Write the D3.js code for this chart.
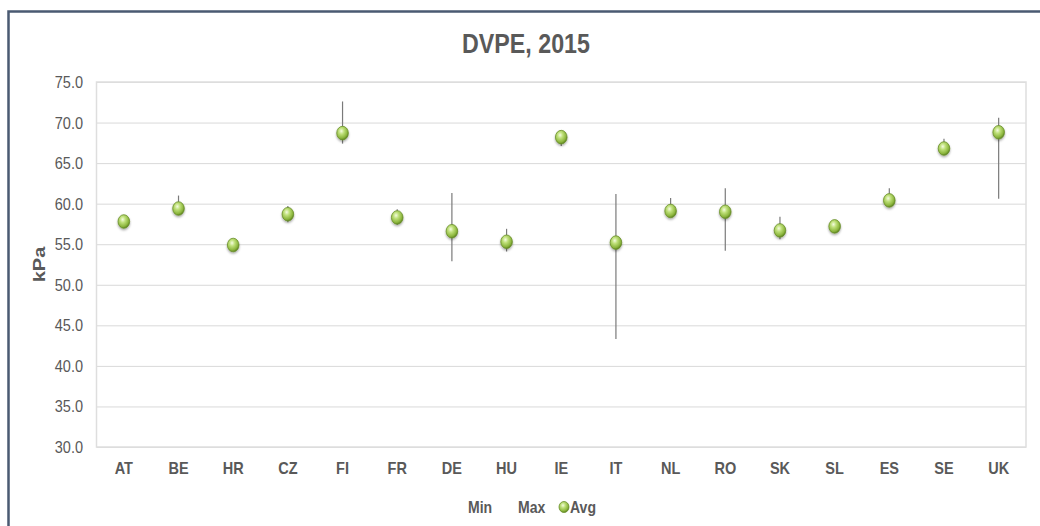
<!DOCTYPE html>
<html>
<head>
<meta charset="utf-8">
<script src="https://cdn.jsdelivr.net/npm/d3@7"></script>
<style>
  body { margin: 0; background: #fff; }
  svg text { font-family: "Liberation Sans", Arial, sans-serif; fill: #595959; }
</style>
</head>
<body>
<div id="chart"></div>
<script>
// data
const countries = ["AT", "BE", "HR", "CZ", "FI", "FR", "DE", "HU", "IE", "IT", "NL", "RO", "SK", "SL", "ES", "SE", "UK"];
const avgValues = [57.8, 59.4, 54.9, 58.7, 68.7, 58.3, 56.6, 55.3, 68.2, 55.2, 59.1, 59.0, 56.7, 57.2, 60.4, 66.8, 68.8];
const maxValues = [58.2, 61.0, 55.2, 59.7, 72.6, 59.3, 61.3, 56.9, 68.5, 61.2, 60.7, 61.9, 58.4, 57.5, 61.9, 68.0, 70.6];
const minValues = [57.4, 59.0, 54.6, 57.7, 67.4, 57.4, 52.9, 54.1, 67.1, 43.3, 58.6, 54.2, 55.6, 56.9, 59.6, 66.4, 60.6];
const yTicks = [30, 35, 40, 45, 50, 55, 60, 65, 70, 75];
const legendItems = ["Min", "Max", "Avg"];

const width = 1040, height = 526;
const margin = { top: 82, right: 14, bottom: 79, left: 96.5 };

const data = countries.map((c, i) => ({ country: c, avg: avgValues[i], min: minValues[i], max: maxValues[i] }));

const svg = d3.select("#chart").append("svg")
  .attr("width", width)
  .attr("height", height);

const defs = svg.append("defs");
const grad = defs.append("radialGradient")
  .attr("id", "ball")
  .attr("cx", "40%").attr("cy", "35%").attr("r", "65%");
grad.append("stop").attr("offset", "0%").attr("stop-color", "#f4fbe0");
grad.append("stop").attr("offset", "35%").attr("stop-color", "#bfe07a");
grad.append("stop").attr("offset", "80%").attr("stop-color", "#8bb53c");
grad.append("stop").attr("offset", "100%").attr("stop-color", "#5f8523");

const shadow = defs.append("filter").attr("id", "shadow")
  .attr("x", "-50%").attr("y", "-50%").attr("width", "200%").attr("height", "200%");
shadow.append("feDropShadow")
  .attr("dx", 0).attr("dy", 1.5).attr("stdDeviation", 1.2)
  .attr("flood-color", "#000").attr("flood-opacity", 0.35);

// chart frame
svg.append("rect")
  .attr("x", 8.5).attr("y", 11.5)
  .attr("width", 1100).attr("height", 600)
  .attr("fill", "none")
  .attr("stroke", "#4a5a72")
  .attr("stroke-width", 2.5);

// squeezed text helper (reference text is horizontally narrow)
function squeeze(sel, sx) {
  sel.each(function () {
    const t = d3.select(this);
    const x = +t.attr("x") || 0, y = +t.attr("y") || 0;
    t.attr("x", null).attr("y", null)
      .attr("transform", `translate(${x},${y}) scale(${sx},1)`);
  });
}

const xScale = d3.scaleBand()
  .domain(countries)
  .range([margin.left, width - margin.right]);

const yScale = d3.scaleLinear()
  .domain([30, 75])
  .range([height - margin.bottom, margin.top]);

// gridlines
svg.append("g")
  .attr("class", "grid")
  .attr("transform", `translate(${margin.left},0)`)
  .call(d3.axisLeft(yScale).tickValues(yTicks).tickSize(-(width - margin.right - margin.left)).tickFormat(""))
  .call(g => g.select(".domain").remove())
  .call(g => g.selectAll("line").attr("stroke", "#d9d9d9").attr("stroke-width", 1));

// plot area border
svg.append("rect")
  .attr("x", margin.left).attr("y", margin.top)
  .attr("width", width - margin.right - margin.left)
  .attr("height", height - margin.bottom - margin.top)
  .attr("fill", "none")
  .attr("stroke", "#dedede")
  .attr("stroke-width", 1.5);

// y axis labels
svg.append("g")
  .selectAll("text")
  .data(yTicks)
  .join("text")
  .attr("x", 83)
  .attr("y", d => yScale(d) + 6)
  .attr("text-anchor", "end")
  .style("font-size", "16.5px")
  .text(d => d3.format(".1f")(d))
  .call(squeeze, 0.88);

// x axis labels
svg.append("g")
  .selectAll("text")
  .data(countries)
  .join("text")
  .attr("x", d => xScale(d) + xScale.bandwidth() / 2)
  .attr("y", 474)
  .attr("text-anchor", "middle")
  .style("font-size", "16.5px")
  .style("font-weight", "bold")
  .text(d => d)
  .call(squeeze, 0.88);

// y axis title
svg.append("text")
  .attr("transform", `translate(45,${(margin.top + height - margin.bottom) / 2}) rotate(-90) scale(1,0.85)`)
  .attr("text-anchor", "middle")
  .style("font-size", "20px")
  .style("font-weight", "bold")
  .text("kPa");

// title
svg.append("text")
  .attr("x", 526)
  .attr("y", 53)
  .attr("text-anchor", "middle")
  .style("font-size", "28px")
  .style("font-weight", "bold")
  .text("DVPE, 2015")
  .call(squeeze, 0.83);

// high-low lines
svg.append("g")
  .selectAll("line")
  .data(data)
  .join("line")
  .attr("x1", d => xScale(d.country) + xScale.bandwidth() / 2)
  .attr("x2", d => xScale(d.country) + xScale.bandwidth() / 2)
  .attr("y1", d => yScale(d.max))
  .attr("y2", d => yScale(d.min))
  .attr("stroke", "#7a7a7a")
  .attr("stroke-width", 1.2);

// avg markers
svg.append("g")
  .selectAll("ellipse")
  .data(data)
  .join("ellipse")
  .attr("cx", d => xScale(d.country) + xScale.bandwidth() / 2)
  .attr("cy", d => yScale(d.avg))
  .attr("rx", 5.8)
  .attr("ry", 6.8)
  .attr("fill", "url(#ball)")
  .attr("stroke", "#6a8f2a")
  .attr("stroke-width", 0.8)
  .attr("filter", "url(#shadow)");

// legend
const legend = svg.append("g").attr("class", "legend");
const legendX = { Min: 468, Max: 518, Avg: 570 };
legend.selectAll("text")
  .data(legendItems)
  .join("text")
  .attr("x", d => legendX[d])
  .attr("y", 513)
  .style("font-size", "16.5px")
  .style("font-weight", "bold")
  .text(d => d)
  .call(squeeze, 0.85);

legend.append("ellipse")
  .attr("cx", 564)
  .attr("cy", 507)
  .attr("rx", 5)
  .attr("ry", 5.5)
  .attr("fill", "url(#ball)")
  .attr("stroke", "#6a8f2a")
  .attr("stroke-width", 0.8);
</script>
</body>
</html>
